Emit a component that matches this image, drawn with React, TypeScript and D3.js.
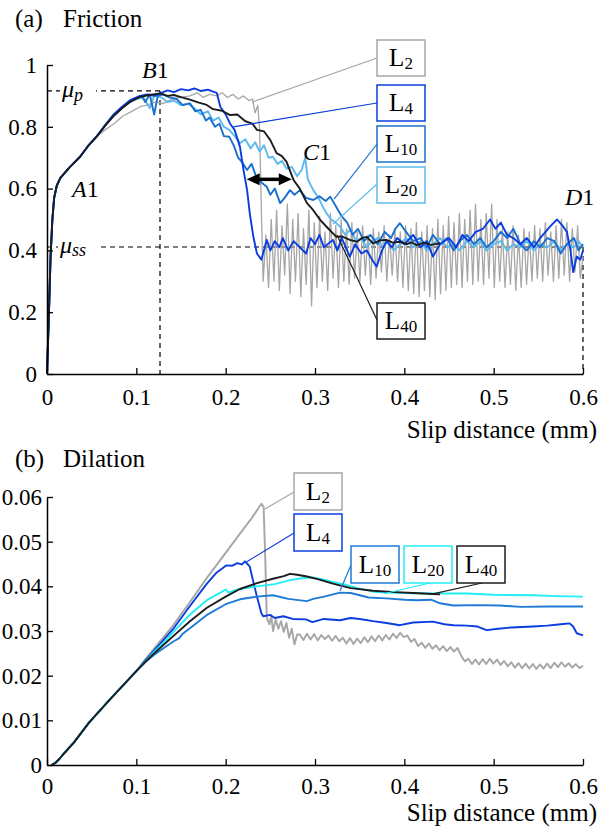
import React, { useEffect, useRef } from "react";
import * as d3 from "d3";

type Pt = [number, number];

// axis ticks
const slipTicks = [0, 0.1, 0.2, 0.3, 0.4, 0.5, 0.6];
const slipTickLabels = ["0", "0.1", "0.2", "0.3", "0.4", "0.5", "0.6"];
const frictionTicks = [0, 0.2, 0.4, 0.6, 0.8, 1];
const frictionTickLabels = ["0", "0.2", "0.4", "0.6", "0.8", "1"];
const dilationTicks = [0, 0.01, 0.02, 0.03, 0.04, 0.05, 0.06];
const dilationTickLabels = ["0", "0.01", "0.02", "0.03", "0.04", "0.05", "0.06"];

const seriesNames = ["2", "4", "10", "20", "40"];

// reference values marked on the friction plot
const muPeak = 0.916;
const muSteady = 0.411;
const slipPeak = 0.1265;

// (a) friction: shared initial loading
const frictionRise: Pt[] = [
  [0, 0], [0.002, 0.18], [0.004, 0.38], [0.006, 0.5], [0.008, 0.57], [0.011, 0.61],
  [0.015, 0.635], [0.025, 0.668], [0.037, 0.703], [0.046, 0.738], [0.056, 0.77],
];

const frictionL2: Pt[] = [
  [0.065, 0.79], [0.075, 0.81], [0.085, 0.835], [0.095, 0.85], [0.104, 0.865], [0.112, 0.87],
  [0.122, 0.881], [0.13, 0.875], [0.14, 0.89], [0.15, 0.895], [0.16, 0.9], [0.168, 0.91],
  [0.175, 0.895], [0.182, 0.905], [0.19, 0.9], [0.196, 0.91], [0.202, 0.895], [0.208, 0.905],
  [0.214, 0.89], [0.22, 0.9], [0.226, 0.885], [0.23, 0.89], [0.233, 0.845], [0.236, 0.87],
  [0.238, 0.79], [0.24, 0.52], [0.242, 0.3],
];
// stick-slip oscillation of L2, evenly spaced from 0.245 to 0.6
const frictionL2Tail = [
  0.45, 0.28, 0.5, 0.3, 0.53, 0.27, 0.48, 0.32, 0.55, 0.26,
  0.5, 0.3, 0.52, 0.25, 0.47, 0.29, 0.53, 0.22, 0.49, 0.28,
  0.51, 0.3, 0.46, 0.27, 0.52, 0.31, 0.48, 0.28, 0.5, 0.3,
  0.47, 0.29, 0.49, 0.31, 0.46, 0.3, 0.48, 0.32, 0.45, 0.29,
  0.47, 0.31, 0.46, 0.33, 0.48, 0.3, 0.45, 0.32, 0.47, 0.3,
  0.46, 0.28, 0.48, 0.27, 0.47, 0.26, 0.49, 0.25, 0.46, 0.27,
  0.48, 0.25, 0.47, 0.24, 0.5, 0.26, 0.48, 0.27, 0.51, 0.28,
  0.49, 0.29, 0.52, 0.28, 0.5, 0.3, 0.53, 0.29, 0.55, 0.3,
  0.5, 0.29, 0.52, 0.31, 0.55, 0.28, 0.5, 0.3, 0.47, 0.28,
  0.46, 0.29, 0.48, 0.27, 0.45, 0.28, 0.47, 0.29, 0.46, 0.3,
  0.48, 0.31, 0.47, 0.3, 0.49, 0.32, 0.46, 0.3, 0.48, 0.31,
  0.5, 0.32, 0.49, 0.3, 0.47, 0.33, 0.48, 0.31, 0.38,
];

const frictionL4: Pt[] = [
  [0.065, 0.805], [0.074, 0.838], [0.084, 0.865], [0.093, 0.886], [0.104, 0.9], [0.112, 0.905],
  [0.12, 0.9], [0.128, 0.91], [0.135, 0.918], [0.142, 0.912], [0.15, 0.922], [0.158, 0.918],
  [0.165, 0.924], [0.172, 0.916], [0.18, 0.92], [0.186, 0.914], [0.19, 0.91], [0.194, 0.865],
  [0.2, 0.84], [0.205, 0.81], [0.21, 0.79], [0.216, 0.735], [0.22, 0.66], [0.224, 0.595],
  [0.227, 0.52], [0.231, 0.444], [0.235, 0.39], [0.24, 0.37], [0.246, 0.434], [0.25, 0.4],
  [0.255, 0.43], [0.26, 0.41], [0.264, 0.44], [0.27, 0.4], [0.276, 0.43], [0.283, 0.41],
  [0.29, 0.39], [0.295, 0.44], [0.3, 0.42], [0.305, 0.45], [0.31, 0.41], [0.32, 0.434],
  [0.325, 0.4], [0.33, 0.44], [0.339, 0.38], [0.345, 0.42], [0.352, 0.39], [0.358, 0.4],
  [0.364, 0.37], [0.369, 0.347], [0.375, 0.4], [0.38, 0.43], [0.386, 0.41], [0.392, 0.44],
  [0.4, 0.42], [0.41, 0.45], [0.418, 0.41], [0.425, 0.43], [0.432, 0.38], [0.44, 0.42],
  [0.45, 0.44], [0.458, 0.41], [0.465, 0.45], [0.472, 0.43], [0.48, 0.46], [0.488, 0.47],
  [0.496, 0.5], [0.502, 0.47], [0.508, 0.49], [0.515, 0.45], [0.522, 0.44], [0.53, 0.42],
  [0.537, 0.44], [0.545, 0.41], [0.552, 0.44], [0.558, 0.46], [0.564, 0.48], [0.571, 0.5],
  [0.577, 0.48], [0.582, 0.46], [0.586, 0.4], [0.589, 0.33], [0.593, 0.38], [0.597, 0.37],
  [0.6, 0.4],
];

const frictionL10: Pt[] = [
  [0.065, 0.805], [0.074, 0.836], [0.084, 0.862], [0.093, 0.88], [0.1, 0.89], [0.106, 0.9],
  [0.11, 0.88], [0.115, 0.905], [0.12, 0.84], [0.124, 0.9], [0.13, 0.905], [0.137, 0.895],
  [0.145, 0.89], [0.152, 0.87], [0.16, 0.876], [0.166, 0.85], [0.172, 0.855], [0.178, 0.82],
  [0.182, 0.83], [0.188, 0.8], [0.193, 0.81], [0.198, 0.77], [0.204, 0.768], [0.209, 0.74],
  [0.214, 0.7], [0.219, 0.683], [0.224, 0.66], [0.229, 0.68], [0.234, 0.64], [0.24, 0.62],
  [0.246, 0.606], [0.25, 0.58], [0.255, 0.6], [0.261, 0.553], [0.266, 0.57], [0.272, 0.595],
  [0.277, 0.58], [0.283, 0.595], [0.29, 0.57], [0.298, 0.563], [0.305, 0.575], [0.312, 0.56],
  [0.317, 0.574], [0.324, 0.54], [0.33, 0.51], [0.336, 0.49], [0.342, 0.45], [0.348, 0.47],
  [0.355, 0.43], [0.362, 0.45], [0.37, 0.42], [0.378, 0.46], [0.385, 0.44], [0.39, 0.47],
  [0.395, 0.488], [0.402, 0.46], [0.41, 0.43], [0.418, 0.44], [0.425, 0.41], [0.432, 0.45],
  [0.44, 0.42], [0.448, 0.44], [0.455, 0.4], [0.462, 0.43], [0.47, 0.45], [0.478, 0.42],
  [0.485, 0.44], [0.492, 0.41], [0.5, 0.43], [0.508, 0.46], [0.515, 0.44], [0.522, 0.47],
  [0.53, 0.42], [0.537, 0.4], [0.545, 0.43], [0.552, 0.41], [0.56, 0.44], [0.568, 0.43],
  [0.575, 0.39], [0.582, 0.42], [0.59, 0.44], [0.595, 0.4], [0.6, 0.42],
];

const frictionL20: Pt[] = [
  [0.065, 0.805], [0.074, 0.836], [0.084, 0.862], [0.093, 0.882], [0.1, 0.89], [0.108, 0.895],
  [0.115, 0.86], [0.12, 0.9], [0.128, 0.895], [0.135, 0.88], [0.142, 0.885], [0.15, 0.87],
  [0.158, 0.875], [0.165, 0.86], [0.172, 0.84], [0.18, 0.85], [0.186, 0.82], [0.192, 0.83],
  [0.198, 0.8], [0.204, 0.79], [0.21, 0.77], [0.216, 0.747], [0.222, 0.76], [0.228, 0.73],
  [0.233, 0.75], [0.238, 0.72], [0.243, 0.74], [0.248, 0.7], [0.253, 0.703], [0.258, 0.68],
  [0.263, 0.69], [0.268, 0.665], [0.274, 0.67], [0.28, 0.64], [0.285, 0.66], [0.289, 0.7],
  [0.292, 0.63], [0.298, 0.595], [0.304, 0.57], [0.309, 0.54], [0.313, 0.52], [0.318, 0.5],
  [0.323, 0.49], [0.328, 0.477], [0.334, 0.45], [0.34, 0.47], [0.346, 0.43], [0.352, 0.44],
  [0.358, 0.41], [0.364, 0.43], [0.37, 0.44], [0.376, 0.41], [0.382, 0.43], [0.388, 0.4],
  [0.395, 0.42], [0.402, 0.44], [0.41, 0.41], [0.418, 0.43], [0.425, 0.4], [0.432, 0.42],
  [0.44, 0.44], [0.448, 0.41], [0.455, 0.42], [0.462, 0.4], [0.47, 0.43], [0.478, 0.41],
  [0.485, 0.43], [0.492, 0.4], [0.5, 0.42], [0.508, 0.43], [0.515, 0.4], [0.522, 0.42],
  [0.53, 0.41], [0.537, 0.43], [0.545, 0.4], [0.552, 0.42], [0.56, 0.41], [0.568, 0.43],
  [0.575, 0.4], [0.582, 0.42], [0.59, 0.41], [0.595, 0.43], [0.6, 0.41],
];

const frictionL40: Pt[] = [
  [0.065, 0.803], [0.074, 0.833], [0.084, 0.86], [0.093, 0.881], [0.104, 0.897], [0.115, 0.903],
  [0.1265, 0.908], [0.135, 0.9], [0.142, 0.903], [0.149, 0.897], [0.16, 0.888], [0.17, 0.878],
  [0.178, 0.872], [0.186, 0.857], [0.196, 0.852], [0.205, 0.838], [0.213, 0.84], [0.222, 0.818],
  [0.23, 0.81], [0.235, 0.79], [0.243, 0.785], [0.25, 0.757], [0.257, 0.715], [0.263, 0.705],
  [0.268, 0.687], [0.276, 0.628], [0.283, 0.6], [0.291, 0.553], [0.298, 0.53], [0.306, 0.498],
  [0.315, 0.47], [0.324, 0.444], [0.33, 0.445], [0.339, 0.434], [0.347, 0.428], [0.353, 0.44],
  [0.358, 0.444], [0.365, 0.423], [0.372, 0.432], [0.38, 0.434], [0.387, 0.425], [0.395, 0.428],
  [0.403, 0.42], [0.408, 0.426], [0.414, 0.417], [0.422, 0.425], [0.43, 0.418], [0.44, 0.423],
];

// (b) dilation: shared initial part
const dilationRise: Pt[] = [
  [0.005, 0], [0.009, 0.0004], [0.014, 0.0014], [0.02, 0.0028], [0.03, 0.005], [0.047, 0.0095],
  [0.07, 0.0146], [0.1, 0.021],
];

const dilationL2: Pt[] = [
  [0.11, 0.0236], [0.12, 0.0261], [0.13, 0.0285], [0.141, 0.0312], [0.16, 0.0365], [0.179, 0.0419],
  [0.2, 0.0475], [0.216, 0.0518], [0.23, 0.0555], [0.24, 0.0585], [0.2425, 0.0578], [0.2445, 0.045],
  [0.246, 0.033], [0.249, 0.0315], [0.251, 0.0335], [0.253, 0.03], [0.256, 0.0325], [0.259, 0.0305],
  [0.262, 0.0322], [0.265, 0.0298], [0.268, 0.0318], [0.271, 0.0285], [0.274, 0.0305], [0.277, 0.027],
  [0.28, 0.0292],
];
// ripple of L2, evenly spaced from 0.283 to 0.6
const dilationL2Tail = [
  0.0292, 0.028, 0.0294, 0.0281, 0.0293, 0.0279, 0.0291, 0.0282, 0.029, 0.0278, 0.0289, 0.0277,
  0.0285, 0.0272, 0.0284, 0.0271, 0.0283, 0.0273, 0.0286, 0.0275,
  0.0288, 0.0277, 0.029, 0.0279, 0.0291, 0.0281, 0.0294, 0.0284, 0.0296, 0.0286,
  0.029, 0.0276, 0.0282, 0.0266, 0.0274, 0.0262, 0.0272, 0.026, 0.0268, 0.0257, 0.0266, 0.0255,
  0.0264, 0.0254, 0.0262, 0.0245, 0.0232,
  0.0238, 0.0226, 0.0236, 0.0225, 0.0237, 0.0226, 0.0238, 0.0227, 0.0236, 0.0224, 0.0233, 0.0221,
  0.023, 0.0218, 0.0228, 0.0217, 0.0227, 0.0216, 0.0226, 0.0215, 0.0225, 0.0216, 0.0227, 0.0217,
  0.0229, 0.0219, 0.023, 0.022, 0.0228, 0.0218, 0.0226, 0.0217, 0.0222,
];

const dilationL4: Pt[] = [
  [0.11, 0.0234], [0.12, 0.0256], [0.13, 0.0279], [0.141, 0.0304], [0.16, 0.0356], [0.179, 0.0406],
  [0.19, 0.0431], [0.201, 0.0447], [0.207, 0.0446], [0.213, 0.0452], [0.218, 0.0449], [0.2217, 0.0456],
  [0.227, 0.0444], [0.231, 0.041], [0.235, 0.0377], [0.24, 0.034], [0.242, 0.0333], [0.25, 0.0336],
  [0.255, 0.0329], [0.2645, 0.0333], [0.275, 0.0327], [0.29, 0.0326], [0.297, 0.032], [0.31, 0.0327],
  [0.328, 0.0324], [0.34, 0.0329], [0.35, 0.0327], [0.365, 0.0322], [0.38, 0.0318], [0.395, 0.0313],
  [0.41, 0.0319], [0.432, 0.0321], [0.445, 0.0315], [0.455, 0.0313], [0.47, 0.0312], [0.482, 0.031],
  [0.492, 0.0302], [0.505, 0.0305], [0.52, 0.0308], [0.544, 0.031], [0.56, 0.0312], [0.575, 0.0315],
  [0.585, 0.0317], [0.589, 0.031], [0.593, 0.0295], [0.6, 0.029],
];

const dilationL10: Pt[] = [
  [0.11, 0.023], [0.12, 0.0247], [0.13, 0.0261], [0.141, 0.0276], [0.148, 0.0284], [0.152, 0.0294],
  [0.16, 0.0306], [0.179, 0.0336], [0.2, 0.036], [0.216, 0.0371], [0.235, 0.0377], [0.253, 0.038],
  [0.27, 0.0372], [0.291, 0.0367], [0.298, 0.0372], [0.31, 0.0377], [0.328, 0.0386], [0.34, 0.0385],
  [0.36, 0.0375], [0.38, 0.0373], [0.4, 0.037], [0.414, 0.0369], [0.43, 0.037], [0.44, 0.0362],
  [0.455, 0.0357], [0.48, 0.0358], [0.507, 0.0357], [0.53, 0.0354], [0.563, 0.0355], [0.6, 0.0355],
];

const dilationL20: Pt[] = [
  [0.11, 0.0232], [0.12, 0.0253], [0.13, 0.0273], [0.141, 0.0297], [0.16, 0.0337], [0.179, 0.0369],
  [0.195, 0.0387], [0.2, 0.0393], [0.203, 0.0386], [0.215, 0.0394], [0.235, 0.04], [0.255, 0.0405],
  [0.272, 0.0414], [0.285, 0.0418], [0.298, 0.042], [0.31, 0.0415], [0.32, 0.041], [0.335, 0.0403],
  [0.35, 0.0395], [0.365, 0.0388], [0.38, 0.0386], [0.4, 0.0385], [0.43, 0.0384], [0.47, 0.0384],
  [0.5, 0.0381], [0.544, 0.038], [0.57, 0.0378], [0.6, 0.0377],
];

const dilationL40: Pt[] = [
  [0.11, 0.0231], [0.12, 0.025], [0.13, 0.0268], [0.141, 0.0288], [0.16, 0.0322], [0.179, 0.0352],
  [0.2, 0.0377], [0.216, 0.0394], [0.235, 0.0407], [0.253, 0.0417], [0.265, 0.0423], [0.272, 0.0428],
  [0.28, 0.0426], [0.291, 0.0422], [0.305, 0.0415], [0.32, 0.0406], [0.34, 0.0396], [0.365, 0.039],
  [0.39, 0.0387], [0.41, 0.0385], [0.432, 0.0383], [0.44, 0.0382],
];

const FONT = "Liberation Serif, Times New Roman, serif";

// spread values evenly between two slip distances
const spread = (x0: number, x1: number, vals: number[]): Pt[] =>
  vals.map((v, i) => [x0 + ((x1 - x0) * i) / (vals.length - 1), v]);

const App = () => {
  const svgRef = useRef<SVGSVGElement>(null);

  useEffect(() => {
    const svg = d3.select(svgRef.current);
    svg.selectAll("*").remove();

    const x = d3.scaleLinear().domain([0, 0.6]).range([47, 583]);
    const yF = d3.scaleLinear().domain([0, 1]).range([374, 65]);
    const yD = d3.scaleLinear().domain([0, 0.06]).range([765, 497]);

    const drawAxes = (yScale, yTicks, yLabels, yPad, baseY, xPad) => {
      const gx = svg.append("g").attr("transform", `translate(0,${baseY})`).call(
        d3.axisBottom(x).tickValues(slipTicks).tickFormat((d, i) => slipTickLabels[i])
          .tickSizeInner(-6).tickSizeOuter(0).tickPadding(xPad)
      );
      const gy = svg.append("g").attr("transform", "translate(47,0)").call(
        d3.axisLeft(yScale).tickValues(yTicks).tickFormat((d, i) => yLabels[i])
          .tickSizeInner(-6).tickSizeOuter(0).tickPadding(yPad)
      );
      [gx, gy].forEach((g) => {
        g.attr("font-family", FONT).attr("font-size", 23);
        g.selectAll("text").attr("fill", "#000").style("font-family", FONT);
        g.selectAll("line").attr("stroke", "#000").attr("stroke-width", 1.3);
        g.select(".domain").attr("stroke", "#000").attr("stroke-width", 1.5);
      });
    };

    const text = (s, px, py, size, opts: any = {}) =>
      svg.append("text").attr("x", px).attr("y", py).style("font-family", FONT)
        .attr("font-size", size).attr("font-style", opts.italic ? "italic" : "normal")
        .attr("text-anchor", opts.anchor || "start").attr("fill", "#000").text(s);

    const dashed = (x1, y1, x2, y2) =>
      svg.append("line").attr("x1", x1).attr("y1", y1).attr("x2", x2).attr("y2", y2)
        .attr("stroke", "#000").attr("stroke-width", 1.2).attr("stroke-dasharray", "5,4");

    const drawLine = (pts: Pt[], yScale, color, w) =>
      svg.append("path").datum(pts).attr("fill", "none").attr("stroke", color)
        .attr("stroke-width", w).attr("stroke-linejoin", "round")
        .attr("d", d3.line<Pt>().x((d) => x(d[0])).y((d) => yScale(d[1])));

    const legendBox = (label, bx, by, w, h, color) => {
      svg.append("rect").attr("x", bx).attr("y", by).attr("width", w).attr("height", h)
        .attr("fill", "#fff").attr("stroke", color).attr("stroke-width", 1.5);
      const t = svg.append("text").attr("x", bx + w / 2).attr("y", by + h / 2 + 8)
        .attr("text-anchor", "middle").style("font-family", FONT).attr("fill", "#000");
      t.append("tspan").attr("font-size", 25).text("L");
      t.append("tspan").attr("font-size", 17).attr("dy", 3).text(label);
    };

    const leader = (x1, y1, x2, y2, color) =>
      svg.append("line").attr("x1", x1).attr("y1", y1).attr("x2", x2).attr("y2", y2)
        .attr("stroke", color).attr("stroke-width", 1.2);

    // ---------- (a) Friction ----------
    text("(a)", 15, 27, 25);
    text("Friction", 63, 27, 25);

    dashed(x(0), yF(muPeak), x(slipPeak), yF(muPeak));
    dashed(x(slipPeak), yF(muPeak), x(slipPeak), yF(0));
    dashed(x(0), yF(muSteady), x(0.6), yF(muSteady));
    dashed(x(0.6), yF(muSteady), x(0.6), yF(0));

    const fColors = ["#a6a6a6", "#0a3ce0", "#1a70cc", "#5cbaee", "#1c1c1c"];
    const fSeries = [
      [...frictionRise, ...frictionL2, ...spread(0.245, 0.6, frictionL2Tail)],
      [...frictionRise, ...frictionL4],
      [...frictionRise, ...frictionL10],
      [...frictionRise, ...frictionL20],
      [...frictionRise, ...frictionL40],
    ] as Pt[][];
    [0, 3, 2, 1, 4].forEach((i) => drawLine(fSeries[i], yF, fColors[i], i === 0 ? 1.3 : 1.9));

    drawAxes(yF, frictionTicks, frictionTickLabels, 10, 374, 15);

    // double arrow between the two drop points
    const ax1 = x(0.2235), ax2 = x(0.274), ay = yF(0.63);
    svg.append("line").attr("x1", ax1 + 8).attr("y1", ay).attr("x2", ax2 - 8).attr("y2", ay)
      .attr("stroke", "#000").attr("stroke-width", 3.5);
    svg.append("path").attr("d", `M${ax1},${ay}L${ax1 + 13},${ay - 6}L${ax1 + 13},${ay + 6}Z`).attr("fill", "#000");
    svg.append("path").attr("d", `M${ax2},${ay}L${ax2 - 13},${ay - 6}L${ax2 - 13},${ay + 6}Z`).attr("fill", "#000");

    // point labels
    const pointLabel = (letter, px, py) => {
      const t = svg.append("text").attr("x", px).attr("y", py).style("font-family", FONT)
        .attr("font-size", 24).attr("fill", "#000");
      t.append("tspan").attr("font-style", "italic").text(letter);
      t.append("tspan").text("1");
    };
    pointLabel("A", 72, 197);
    pointLabel("B", 142, 78);
    pointLabel("C", 303, 160);
    pointLabel("D", 565, 205);

    svg.append("rect").attr("x", 60).attr("y", yF(muPeak) - 8).attr("width", 36).attr("height", 16).attr("fill", "#fff");
    const mp = svg.append("text").attr("x", 62).attr("y", yF(muPeak) + 6).style("font-family", FONT)
      .attr("font-style", "italic").attr("fill", "#000");
    mp.append("tspan").attr("font-size", 24).text("μ");
    mp.append("tspan").attr("font-size", 18).attr("dy", 4).text("p");

    svg.append("rect").attr("x", 58).attr("y", yF(muSteady) - 8).attr("width", 40).attr("height", 16).attr("fill", "#fff");
    const ms = svg.append("text").attr("x", 60).attr("y", yF(muSteady) + 6).style("font-family", FONT)
      .attr("font-style", "italic").attr("fill", "#000");
    ms.append("tspan").attr("font-size", 24).text("μ");
    ms.append("tspan").attr("font-size", 18).attr("dy", 3).text("ss");

    // legend boxes and leaders (a)
    const fBoxes = [
      { bx: 377, by: 40, sx: 377, sy: 58, to: [0.2295, 0.88] },
      { bx: 377, by: 85, sx: 377, sy: 103, to: [0.2086, 0.8] },
      { bx: 377, by: 126, sx: 377, sy: 144, to: [0.3213, 0.566] },
      { bx: 377, by: 167, sx: 377, sy: 184, to: [0.32, 0.485] },
      { bx: 377, by: 303, sx: 377, sy: 320, to: [0.3246, 0.45] },
    ];
    fBoxes.forEach((b, i) => {
      leader(b.sx, b.sy, x(b.to[0]), yF(b.to[1]), fColors[i]);
      legendBox(seriesNames[i], b.bx, b.by, 48, 36, fColors[i]);
    });

    text("Slip distance (mm)", 597, 438, 25, { anchor: "end" });

    // ---------- (b) Dilation ----------
    text("(b)", 15, 467, 25);
    text("Dilation", 63, 467, 25);

    const dColors = ["#a6a6a6", "#0a3ce0", "#1f7ad6", "#22eef5", "#1c1c1c"];
    const dSeries = [
      [...dilationRise, ...dilationL2, ...spread(0.283, 0.6, dilationL2Tail)],
      [...dilationRise, ...dilationL4],
      [...dilationRise, ...dilationL10],
      [...dilationRise, ...dilationL20],
      [...dilationRise, ...dilationL40],
    ] as Pt[][];
    [0, 1, 2, 3, 4].forEach((i) => drawLine(dSeries[i], yD, dColors[i], 1.9));

    drawAxes(yD, dilationTicks, dilationTickLabels, 5, 765, 13);

    const dBoxes = [
      { bx: 294, by: 473, sx: 294, sy: 492, to: [0.244, 0.0573] },
      { bx: 294, by: 514, sx: 294, sy: 533, to: [0.2236, 0.0455] },
      { bx: 351, by: 546, sx: 351, sy: 565, to: [0.328, 0.039] },
      { bx: 404, by: 546, sx: 430, sy: 583, to: [0.378, 0.0384] },
      { bx: 457, by: 546, sx: 482, sy: 583, to: [0.432, 0.0383] },
    ];
    dBoxes.forEach((b, i) => {
      leader(b.sx, b.sy, x(b.to[0]), yD(b.to[1]), dColors[i]);
      legendBox(seriesNames[i], b.bx, b.by, 48, 37, dColors[i]);
    });

    text("Slip distance (mm)", 597, 821, 25, { anchor: "end" });
  }, []);

  return (
    <div style={{ position: "absolute", left: 0, top: 0 }}>
      <svg
        ref={svgRef}
        width={609}
        height={830}
        style={{ display: "block", background: "#fff", fontFamily: FONT }}
      />
    </div>
  );
};

export default App;
